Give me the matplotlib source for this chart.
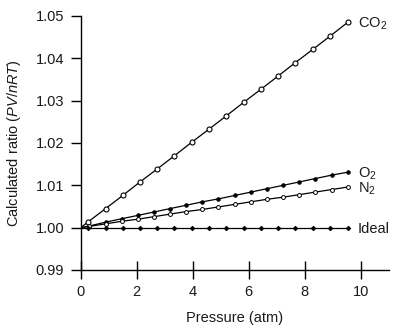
import matplotlib
matplotlib.use("Agg")
import matplotlib.pyplot as plt

plt.rcParams['font.family'] = ['Liberation Sans', 'DejaVu Sans']
plt.rcParams['mathtext.fontset'] = 'custom'
plt.rcParams['mathtext.rm'] = 'Liberation Sans'
plt.rcParams['mathtext.it'] = 'Liberation Sans:italic'
plt.rcParams['mathtext.bf'] = 'Liberation Sans:bold'

x_a = [0.0, 0.27, 0.89, 1.50, 2.12, 2.74, 3.35, 3.97, 4.59, 5.20, 5.82, 6.44, 7.05, 7.67, 8.29, 8.90, 9.54]
co2 = [1.0, 1.0014, 1.0045, 1.0076, 1.0108, 1.0139, 1.0170, 1.0202, 1.0233, 1.0264,
       1.0296, 1.0327, 1.0358, 1.0390, 1.0421, 1.0452, 1.0485]
ideal = [1.0] * 17

x_b = [0.0, 0.31, 0.89, 1.46, 2.04, 2.62, 3.19, 3.77, 4.35, 4.92, 5.50, 6.08, 6.65, 7.23, 7.81, 8.38, 8.96, 9.54]
o2 = [1.0, 1.0004, 1.0013, 1.0021, 1.0029, 1.0037, 1.0045, 1.0053, 1.0061, 1.0068, 1.0076,
      1.0084, 1.0092, 1.0100, 1.0108, 1.0116, 1.0124, 1.0131]
n2 = [1.0, 1.0003, 1.0009, 1.0015, 1.0020, 1.0026, 1.0032, 1.0038, 1.0043, 1.0049, 1.0055,
      1.0061, 1.0067, 1.0072, 1.0078, 1.0084, 1.0090, 1.0096]

labels = ["CO$_2$", "O$_2$", "N$_2$", "Ideal"]
xticks = [0, 2, 4, 6, 8, 10]
yticks = [0.99, 1.00, 1.01, 1.02, 1.03, 1.04, 1.05]

FS = 10.5
TC = '#1a1a1a'

fig = plt.figure(figsize=(3.99, 3.31), dpi=100)
ax = fig.add_axes([0.2023, 0.1843, 0.7717, 0.7674])

lw = 0.9
ax.plot(x_a, co2, color='black', lw=lw, marker='o', ms=3.6, mfc='white', mec='black', mew=0.8, markevery=list(range(1, 17)))
ax.plot(x_b, o2, color='black', lw=lw, marker='o', ms=2.6, mfc='black', mec='black', mew=0.6, markevery=list(range(1, 18)))
ax.plot(x_b, n2, color='black', lw=lw, marker='o', ms=2.8, mfc='white', mec='black', mew=0.7, markevery=list(range(1, 18)))
ax.plot(x_a, ideal, color='black', lw=lw, marker='D', ms=2.4, mfc='black', mec='black', mew=0.5, markevery=list(range(1, 17)))

ends = [co2[-1], o2[-1], n2[-1], ideal[-1]]
ends_x = [x_a[-1], x_b[-1], x_b[-1], x_a[-1]]
for lab, xe, ye in zip(labels, ends_x, ends):
    ax.text(xe + 0.36, ye - 0.00122, lab, fontsize=FS, va='baseline', ha='left', color=TC)

ax.set_xlim(0, 11)
ax.set_ylim(0.99, 1.05)
ax.set_xticks(xticks)
ax.set_yticks(yticks)
ax.set_yticklabels([f"{v:.2f}" for v in yticks])
ax.spines['top'].set_visible(False)
ax.spines['right'].set_visible(False)
for s in ['left', 'bottom']:
    ax.spines[s].set_linewidth(1.0)
ax.tick_params(axis='y', direction='out', length=7, width=1.0, pad=5, labelsize=FS, labelcolor=TC)
ax.tick_params(axis='x', direction='inout', length=13, width=1.0, pad=4, labelsize=FS, labelcolor=TC)
ax.set_xlabel("Pressure (atm)", fontsize=FS, labelpad=9, color=TC)
ax.set_ylabel("Calculated ratio ($\\mathit{PV/nRT}$)", fontsize=FS, labelpad=9, color=TC)

fig.savefig("out.png", dpi=100)
